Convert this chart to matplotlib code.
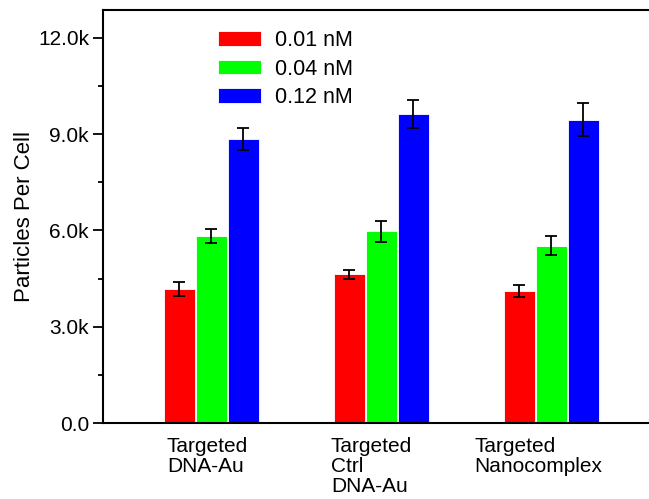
import numpy as np
import matplotlib
matplotlib.use("Agg")
import matplotlib.pyplot as plt
from matplotlib.ticker import FixedLocator, FuncFormatter
from matplotlib.transforms import ScaledTranslation

plt.rcParams['font.family'] = ['Liberation Sans', 'DejaVu Sans']

# 各组粒子数 (k) 与误差
groups = ["Targeted\nDNA-Au", "Targeted\nCtrl\nDNA-Au", "Targeted\nNanocomplex"]
conc_labels = ["0.01 nM", "0.04 nM", "0.12 nM"]
values = [
    [4.18, 4.63, 4.11],   # 0.01 nM
    [5.83, 5.98, 5.53],   # 0.04 nM
    [8.85, 9.62, 9.45],   # 0.12 nM
]
errors = [
    [0.21, 0.14, 0.18],
    [0.23, 0.33, 0.30],
    [0.33, 0.43, 0.52],
]
colors = ["#ff0000", "#00ff00", "#0000ff"]

fig = plt.figure(figsize=(6.49, 4.99), dpi=100)
ax = fig.add_axes([0.1587, 0.1523, 0.8413, 0.8277])

x = np.arange(1, len(groups) + 1)
step = 0.188
width = 0.18
for i, (vals, errs) in enumerate(zip(values, errors)):
    pos = x + (i - 1) * step
    ax.bar(pos, np.array(vals) * 1000, width, color=colors[i],
           edgecolor="white", linewidth=0.6, label=conc_labels[i])
    ax.errorbar(pos, np.array(vals) * 1000, yerr=np.array(errs) * 1000,
                fmt="none", ecolor="black", elinewidth=1.3, capsize=4,
                capthick=1.3)

ax.set_xlim(0.362, 3.574)
ax.set_ylim(0, 12870)

ax.yaxis.set_major_locator(FixedLocator([0, 3000, 6000, 9000, 12000]))
ax.yaxis.set_minor_locator(FixedLocator([1500, 4500, 7500, 10500]))
ax.yaxis.set_major_formatter(FuncFormatter(
    lambda v, p: "0.0" if v == 0 else "%.1fk" % (v / 1000)))
ax.tick_params(axis="y", which="major", length=7, width=1.3, labelsize=15, pad=3)
ax.tick_params(axis="y", which="minor", length=3.5, width=1.3)

ax.set_xticks(x)
ax.set_xticklabels(groups, fontsize=15, multialignment="left",
                   linespacing=1.08)
ax.tick_params(axis="x", length=0, pad=10)
# 标签块略微左移
for lab, dx in zip(ax.get_xticklabels(), [-4, -10, -13]):
    lab.set_transform(lab.get_transform() +
                      ScaledTranslation(dx / 100, 0, fig.dpi_scale_trans))

ax.set_ylabel("Particles Per Cell", fontsize=16, labelpad=2.5)

for side in ["left", "bottom", "top"]:
    ax.spines[side].set_linewidth(1.5)
ax.spines["right"].set_visible(False)

ax.legend(loc="upper left", bbox_to_anchor=(218 / 649, 1 - 30 / 499),
          bbox_transform=fig.transFigure, frameon=False, fontsize=15.5,
          handlelength=2.0, handleheight=0.65, handletextpad=0.65,
          labelspacing=0.35, borderpad=0, borderaxespad=0)

fig.savefig("out.png", dpi=100)
